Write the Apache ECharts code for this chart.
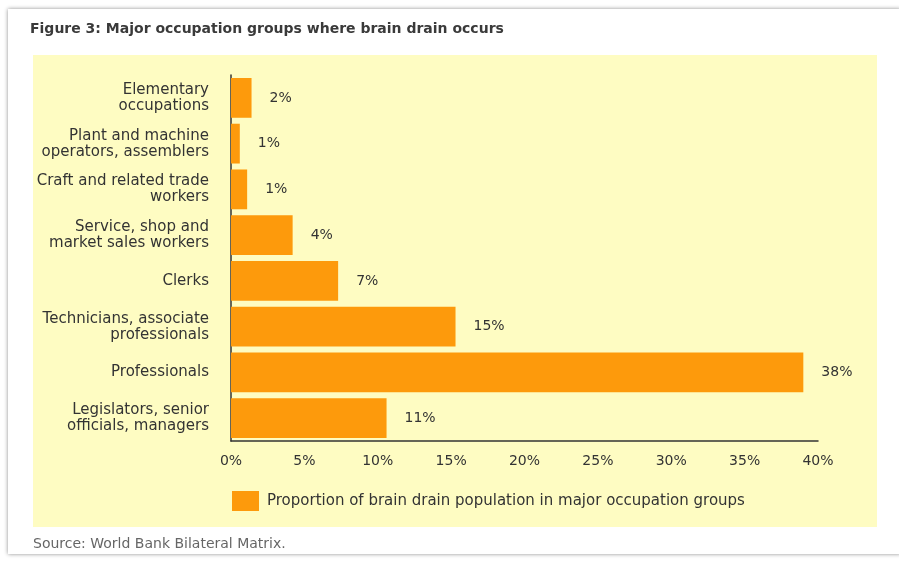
<!DOCTYPE html>
<html>
<head>
<meta charset="utf-8">
<script src="https://cdn.jsdelivr.net/npm/echarts@6/dist/echarts.min.js"></script>
<style>
  html, body { margin: 0; padding: 0; background: #ffffff; }
  .card {
    position: absolute; left: 8px; top: 9px; width: 893px; height: 545px;
    background: #ffffff; box-shadow: 0 0 4px rgba(0, 0, 0, 0.45);
  }
  #chart { position: absolute; left: 0; top: 0; width: 899px; height: 563px; }
</style>
</head>
<body>
<div class="card"></div>
<div id="chart"></div>
<script>
// occupation groups, top to bottom
const categories = [
  'Elementary\noccupations',
  'Plant and machine\noperators, assemblers',
  'Craft and related trade\nworkers',
  'Service, shop and\nmarket sales workers',
  'Clerks',
  'Technicians, associate\nprofessionals',
  'Professionals',
  'Legislators, senior\nofficials, managers'
]
// bar lengths as drawn (%)
const shares = [1.4, 0.6, 1.1, 4.2, 7.3, 15.3, 39.0, 10.6]
// printed labels
const shareLabels = ['2%', '1%', '1%', '4%', '7%', '15%', '38%', '11%']
const xTicks = { min: 0, max: 40, interval: 5 }
const seriesName = 'Proportion of brain drain population in major occupation groups'

const chart = echarts.init(document.getElementById('chart'))

const option = {
  animation: false,
  textStyle: { fontFamily: '"DejaVu Sans", sans-serif' },
  graphic: [
    {
      type: 'rect',
      z: -10,
      shape: { x: 33, y: 55, width: 844, height: 472 },
      style: { fill: '#fefcc2' }
    },
    {
      type: 'text',
      left: 30,
      top: 22,
      style: {
        text: 'Figure 3: Major occupation groups where brain drain occurs',
        fill: '#3a3a3a',
        font: 'bold 14px "DejaVu Sans", sans-serif'
      }
    },
    {
      type: 'text',
      left: 33,
      top: 537,
      style: {
        text: 'Source: World Bank Bilateral Matrix.',
        fill: '#666666',
        font: '14px "DejaVu Sans", sans-serif'
      }
    }
  ],
  legend: {
    left: 227,
    top: 486,
    itemWidth: 27,
    itemHeight: 20,
    itemGap: 10,
    icon: 'rect',
    textStyle: { color: '#333333', fontSize: 15, padding: [0, 0, 0, 3] },
    data: [seriesName]
  },
  grid: {
    left: 231,
    right: 81,
    top: 75,
    bottom: 122,
    containLabel: false
  },
  xAxis: {
    type: 'value',
    min: xTicks.min,
    max: xTicks.max,
    interval: xTicks.interval,
    axisLine: { show: true, lineStyle: { color: '#333333', width: 1.5 } },
    axisTick: { show: false },
    splitLine: { show: false },
    axisLabel: {
      color: '#333333',
      fontSize: 14,
      margin: 13,
      formatter: '{value}%'
    }
  },
  yAxis: {
    type: 'category',
    inverse: true,
    data: categories,
    axisLine: { show: true, lineStyle: { color: '#333333', width: 1.5 } },
    axisTick: { show: false },
    axisLabel: {
      color: '#333333',
      fontSize: 15,
      lineHeight: 16,
      margin: 22,
      align: 'right'
    }
  },
  series: [{
    name: seriesName,
    type: 'bar',
    data: shares,
    barCategoryGap: '13%',
    itemStyle: { color: '#fd9a0c' },
    label: {
      show: true,
      position: 'right',
      distance: 18,
      color: '#333333',
      fontSize: 14,
      formatter: (p) => shareLabels[p.dataIndex]
    }
  }]
}

chart.setOption(option)
</script>
</body>
</html>
